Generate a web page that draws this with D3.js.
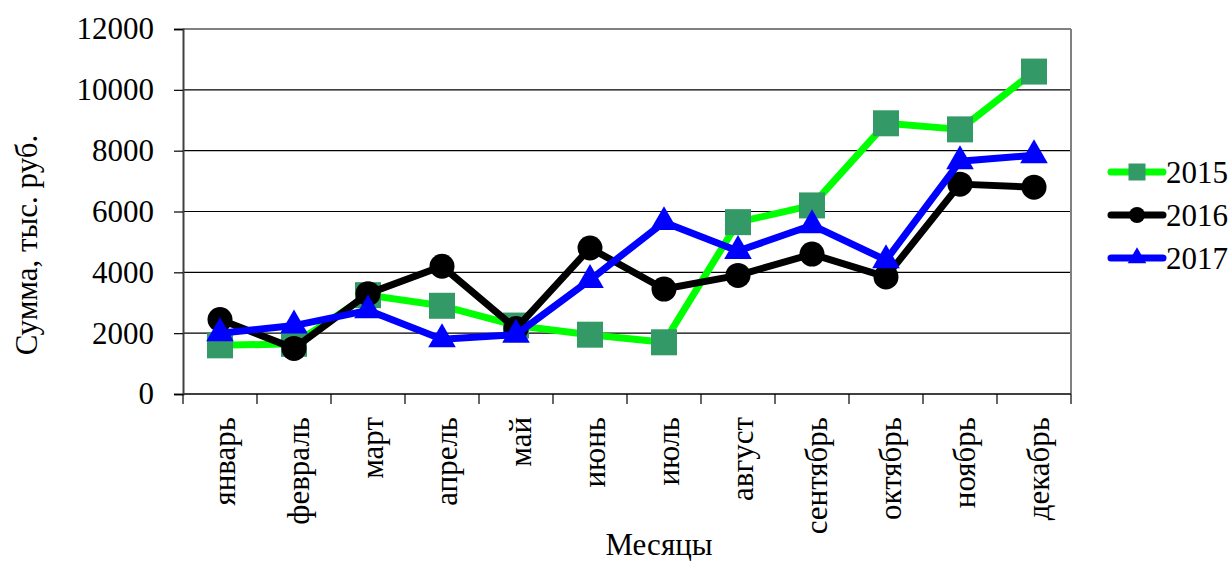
<!DOCTYPE html>
<html>
<head>
<meta charset="utf-8">
<script src="https://cdn.jsdelivr.net/npm/d3@7"></script>
<style>
  html, body { margin: 0; padding: 0; background: #fff; }
  svg { display: block; }
  text { font-family: "Liberation Serif", "Times New Roman", "DejaVu Serif", serif; fill: #000; }
</style>
</head>
<body>
<svg id="chart" width="1232" height="562"></svg>
<script>
const months = ["январь","февраль","март","апрель","май","июнь","июль","август","сентябрь","октябрь","ноябрь","декабрь"];
const years = ["2015","2016","2017"];
const values2015 = [1600, 1650, 3250, 2900, 2250, 1950, 1700, 5650, 6200, 8900, 8700, 10600];
const values2016 = [2450, 1500, 3300, 4200, 2150, 4800, 3450, 3900, 4600, 3850, 6900, 6800];
const values2017 = [2000, 2250, 2750, 1800, 1950, 3750, 5650, 4700, 5550, 4400, 7650, 7850];
const yTicks = [0, 2000, 4000, 6000, 8000, 10000, 12000];
const lineColors = ["#00FF00", "#000000", "#0000FF"];
const markerColors = ["#339966", "#000000", "#0000FF"];
const markerShapes = [d3.symbolSquare, d3.symbolCircle, d3.symbolTriangle];

const seriesList = [values2015, values2016, values2017];

(function () {
const svg = d3.select("#chart");
const pLeft = 183, pRight = 1071, pTop = 29, pBottom = 394;
const fs = 31;

const x = d3.scaleBand().domain(months).range([pLeft, pRight]).padding(0);
const y = d3.scaleLinear().domain([0, 12000]).range([pBottom, pTop]);

// gridlines
svg.append("g").selectAll("line").data(yTicks.filter(t => t > 0 && t < 12000)).join("line")
  .attr("x1", pLeft).attr("x2", pRight)
  .attr("y1", d => y(d)).attr("y2", d => y(d))
  .attr("stroke", "#000").attr("stroke-width", 1.2);

// plot border (top & right gray)
svg.append("line").attr("x1", pLeft).attr("x2", pRight).attr("y1", pTop).attr("y2", pTop)
  .attr("stroke", "#808080").attr("stroke-width", 2);
svg.append("line").attr("x1", pRight).attr("x2", pRight).attr("y1", pTop).attr("y2", pBottom)
  .attr("stroke", "#808080").attr("stroke-width", 2);

// Y axis
const yAxis = d3.axisLeft(y).tickValues(yTicks).tickSize(9).tickPadding(20).tickFormat(d3.format("d"));
const gy = svg.append("g").attr("transform", `translate(${pLeft},0)`).call(yAxis);
gy.attr("font-family", null);
gy.select(".domain").attr("stroke", "#404040").attr("stroke-width", 2);
gy.selectAll(".tick line").attr("stroke", "#000").attr("stroke-width", 1.2);
gy.selectAll(".tick text").style("font-size", fs + "px").attr("fill", "#000");

// X axis with ticks at category boundaries
const boundaries = d3.range(months.length + 1);
const xb = d3.scaleLinear().domain([0, months.length]).range([pLeft, pRight]);
const gx = svg.append("g").attr("transform", `translate(0,${pBottom})`);
gx.append("line").attr("x1", pLeft).attr("x2", pRight).attr("y1", 0).attr("y2", 0)
  .attr("stroke", "#404040").attr("stroke-width", 2);
gx.selectAll("line.tk").data(boundaries).join("line").attr("class", "tk")
  .attr("x1", d => xb(d)).attr("x2", d => xb(d)).attr("y1", 0).attr("y2", 10)
  .attr("stroke", "#000").attr("stroke-width", 1.2);
gx.selectAll("text.lbl").data(months).join("text").attr("class", "lbl")
  .attr("transform", d => `translate(${x(d) + x.bandwidth() / 2 + 4},${23}) rotate(-90)`)
  .attr("text-anchor", "end")
  .attr("dy", "0.35em")
  .style("font-size", fs + "px")
  .text(d => d);

// Series
const line = d3.line().x((d, i) => x(months[i]) + x.bandwidth() / 2).y(d => y(d));
seriesList.forEach((vals, si) => {
  const g = svg.append("g");
  g.append("path").datum(vals).attr("d", line)
    .attr("fill", "none").attr("stroke", lineColors[si]).attr("stroke-width", 7)
    .attr("stroke-linejoin", "round");
  const size = si === 0 ? 26 * 26 : (si === 1 ? Math.PI * 12.5 * 12.5 : 330);
  g.selectAll("path.m").data(vals).join("path").attr("class", "m")
    .attr("transform", (d, i) => `translate(${x(months[i]) + x.bandwidth() / 2},${y(d)})`)
    .attr("d", d3.symbol().type(markerShapes[si]).size(size))
    .attr("fill", markerColors[si]);
});

// Axis titles
svg.append("text").attr("transform", `translate(37,245) rotate(-90)`)
  .attr("text-anchor", "middle").style("font-size", fs + "px").text("Сумма, тыс. руб.");
svg.append("text").attr("x", 659).attr("y", 555)
  .attr("text-anchor", "middle").style("font-size", fs + "px").text("Месяцы");

// Legend
const lg = svg.append("g");
years.forEach((yr, i) => {
  const cy = 172 + i * 43;
  lg.append("line").attr("x1", 1111).attr("x2", 1163).attr("y1", cy).attr("y2", cy)
    .attr("stroke", lineColors[i]).attr("stroke-width", 7).attr("stroke-linecap", "round");
  const size = i === 0 ? 17 * 17 : (i === 1 ? Math.PI * 8 * 8 : 150);
  lg.append("path").attr("transform", `translate(1137,${cy})`)
    .attr("d", d3.symbol().type(markerShapes[i]).size(size)).attr("fill", markerColors[i]);
  lg.append("text").attr("x", 1166).attr("y", cy).attr("dy", "0.35em")
    .style("font-size", fs + "px").text(yr);
});
})();
</script>
</body>
</html>
